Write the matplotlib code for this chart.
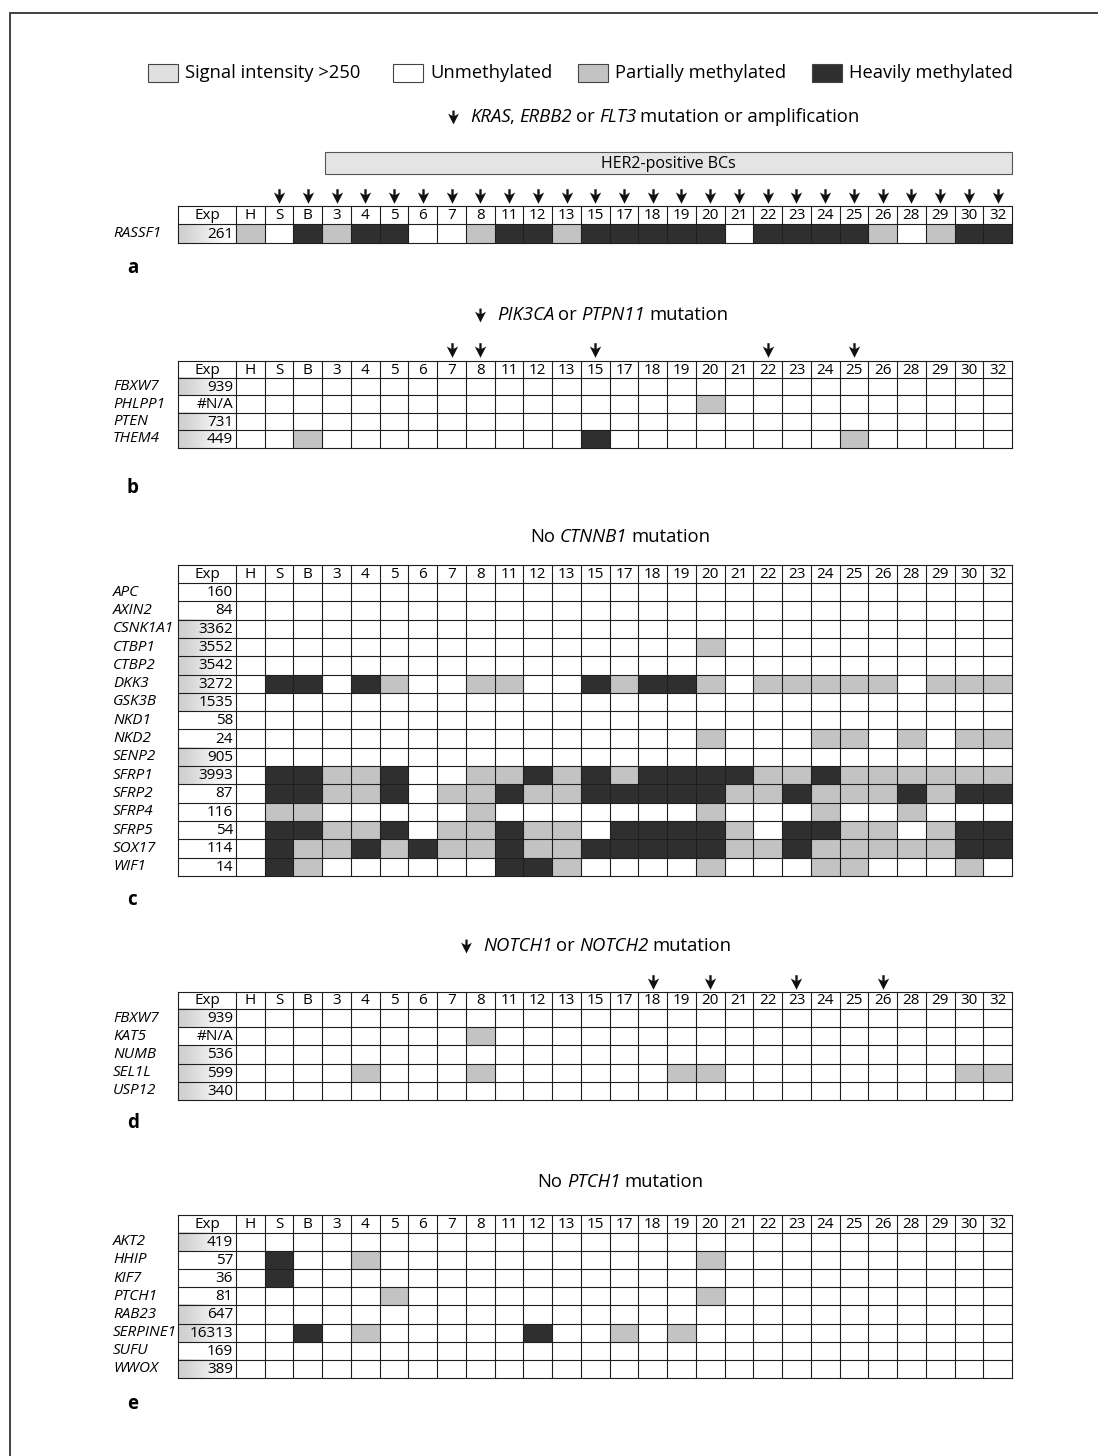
import numpy as np
import matplotlib
matplotlib.use("Agg")
import matplotlib.pyplot as plt
from matplotlib.patches import Rectangle
from matplotlib.path import Path

plt.rcParams['font.family'] = ['Open Sans', 'DejaVu Sans']

# ---------------- data ----------------
columns = ["H", "S", "B", "3", "4", "5", "6", "7", "8", "11", "12", "13", "15", "17",
           "18", "19", "20", "21", "22", "23", "24", "25", "26", "28", "29", "30", "32"]

legend_labels = ["Signal intensity >250", "Unmethylated", "Partially methylated", "Heavily methylated"]
exp_threshold = 250

# title segments: (text, italic)
a_title = [("KRAS", True), (", ", False), ("ERBB2", True), (" or ", False),
           ("FLT3", True), (" mutation or amplification", False)]
b_title = [("PIK3CA", True), (" or ", False), ("PTPN11", True), (" mutation", False)]
c_title = [("No ", False), ("CTNNB1", True), (" mutation", False)]
d_title = [("NOTCH1", True), (" or ", False), ("NOTCH2", True), (" mutation", False)]
e_title = [("No ", False), ("PTCH1", True), (" mutation", False)]

# status codes: 0 = unmethylated, 1 = partially methylated, 2 = heavily methylated
# (grouped in fives: H S B 3 4 | 5 6 7 8 11 | 12 13 15 17 18 | 19 20 21 22 23 | 24 25 26 28 29 | 30 32)
a_genes = ["RASSF1"]
a_exp = ["261"]
a_status = ["10212 20012 21222 22022 22101 22"]
a_arrows = columns[1:]
her2_label = "HER2-positive BCs"
her2_span = ["3", "32"]

b_genes = ["FBXW7", "PHLPP1", "PTEN", "THEM4"]
b_exp = ["939", "#N/A", "731", "449"]
b_status = ["00000 00000 00000 00000 00000 00",
            "00000 00000 00000 01000 00000 00",
            "00000 00000 00000 00000 00000 00",
            "00100 00000 00200 00000 01000 00"]
b_arrows = ["7", "8", "15", "22", "25"]

c_genes = ["APC", "AXIN2", "CSNK1A1", "CTBP1", "CTBP2", "DKK3", "GSK3B", "NKD1", "NKD2",
           "SENP2", "SFRP1", "SFRP2", "SFRP4", "SFRP5", "SOX17", "WIF1"]
c_exp = ["160", "84", "3362", "3552", "3542", "3272", "1535", "58", "24",
         "905", "3993", "87", "116", "54", "114", "14"]
c_status = ["00000 00000 00000 00000 00000 00",
            "00000 00000 00000 00000 00000 00",
            "00000 00000 00000 00000 00000 00",
            "00000 00000 00000 01000 00000 00",
            "00000 00000 00000 00000 00000 00",
            "02202 10011 00212 21011 11101 11",
            "00000 00000 00000 00000 00000 00",
            "00000 00000 00000 00000 00000 00",
            "00000 00000 00000 01000 11010 11",
            "00000 00000 00000 00000 00000 00",
            "02211 20011 21212 22211 21111 11",
            "02211 20112 11222 22112 11121 22",
            "01100 00010 00000 01000 10010 00",
            "02211 20112 11022 22102 21101 22",
            "02112 12112 11222 22112 11111 22",
            "02100 00002 21000 01000 11000 10"]
c_arrows = []

d_genes = ["FBXW7", "KAT5", "NUMB", "SEL1L", "USP12"]
d_exp = ["939", "#N/A", "536", "599", "340"]
d_status = ["00000 00000 00000 00000 00000 00",
            "00000 00010 00000 00000 00000 00",
            "00000 00000 00000 00000 00000 00",
            "00001 00010 00000 11000 00000 11",
            "00000 00000 00000 00000 00000 00"]
d_arrows = ["18", "20", "23", "26"]

e_genes = ["AKT2", "HHIP", "KIF7", "PTCH1", "RAB23", "SERPINE1", "SUFU", "WWOX"]
e_exp = ["419", "57", "36", "81", "647", "16313", "169", "389"]
e_status = ["00000 00000 00000 00000 00000 00",
            "02001 00000 00000 01000 00000 00",
            "02000 00000 00000 00000 00000 00",
            "00000 10000 00000 01000 00000 00",
            "00000 00000 00000 00000 00000 00",
            "00201 00000 20010 10000 00000 00",
            "00000 00000 00000 00000 00000 00",
            "00000 00000 00000 00000 00000 00"]
e_arrows = []

# ---------------- style ----------------
W, H = 1098, 1456
status_colors = {0: "white", 1: "#c3c3c3", 2: "#2f2f2f"}
signal_color = "#e0e0e0"
line_color = "#1e1e1e"
FS = 11
TITLE_FS = 13.3

fig = plt.figure(figsize=(W / 100, H / 100), dpi=100)
ax = fig.add_axes([0, 0, 1, 1])
ax.set_xlim(0, W)
ax.set_ylim(H, 0)
ax.axis("off")
renderer = fig.canvas.get_renderer()

# arrow marker (downward pointing, with a stem)
arrow_marker = Path([(-0.16, 1.0), (0.16, 1.0), (0.16, 0.22), (0.78, 0.55), (0.0, -1.0),
                     (-0.78, 0.55), (-0.16, 0.22), (-0.16, 1.0)],
                    [Path.MOVETO] + [Path.LINETO] * 6 + [Path.CLOSEPOLY])

# frame
ax.plot([10, 10, W], [H, 13, 13], color="#333333", lw=1.3, solid_joinstyle="miter")

# table geometry
X0 = 178
EXP_W = 58
X_END = 1012
CW = (X_END - X0 - EXP_W) / len(columns)


def col_x(label):
    return X0 + EXP_W + columns.index(label) * CW


def text_width(s, fs, italic=False):
    t = ax.text(0, 0, s, fontsize=fs, style="italic" if italic else "normal")
    w = t.get_window_extent(renderer).width
    t.remove()
    return w


def draw_rich(x, y, segments, fs):
    space_w = text_width("a a", fs) - text_width("aa", fs)
    for s, it in segments:
        core = s.strip(" ")
        lead = len(s) - len(s.lstrip(" "))
        trail = len(s) - len(s.rstrip(" ")) if core else 0
        x += lead * space_w
        if core:
            t = ax.text(x, y, core, ha="left", va="center", fontsize=fs,
                        style="italic" if it else "normal", zorder=4)
            x += t.get_window_extent(renderer).width - (1.0 if it else 0.0)
        x += trail * space_w


def gradient_cell(x, y, w, h):
    grad = np.array([[0.82, 0.88, 0.95, 0.99]])
    ax.imshow(grad, extent=(x, x + w, y + h, y), cmap="gray", vmin=0, vmax=1,
              interpolation="bilinear", aspect="auto", zorder=1)


def draw_table(top, header_h, row_h, genes, exps, statuses, arrows, arrow_y):
    n = len(genes)
    bottom = top + header_h + n * row_h
    ax.text(X0 + EXP_W / 2, top + header_h / 2 + 0.5, "Exp", ha="center", va="center", fontsize=FS, zorder=4)
    for c in columns:
        ax.text(col_x(c) + CW / 2, top + header_h / 2 + 0.5, c, ha="center", va="center", fontsize=FS, zorder=4)
    for i, (g, e, s) in enumerate(zip(genes, exps, statuses)):
        y = top + header_h + i * row_h
        ax.text(113, y + row_h / 2, g, ha="left", va="center", fontsize=FS, style="italic", zorder=4)
        if e.isdigit() and int(e) > exp_threshold:
            gradient_cell(X0, y, EXP_W, row_h)
        ax.text(X0 + EXP_W - 3, y + row_h / 2 + 0.5, e, ha="right", va="center", fontsize=FS, zorder=4)
        codes = [int(ch) for ch in s.replace(" ", "")]
        for j, code in enumerate(codes):
            if code:
                ax.add_patch(Rectangle((X0 + EXP_W + j * CW, y), CW, row_h,
                                       facecolor=status_colors[code], edgecolor="none", zorder=2))
    for k in range(n + 2):
        yy = top if k == 0 else top + header_h + (k - 1) * row_h
        ax.plot([X0, X_END], [yy, yy], color=line_color, lw=0.8, zorder=3)
    for xx in [X0, X0 + EXP_W] + [col_x(c) + CW for c in columns]:
        ax.plot([xx, xx], [top, bottom], color=line_color, lw=0.8, zorder=3)
    if arrows:
        ax.scatter([col_x(c) + CW / 2 for c in arrows], [arrow_y] * len(arrows),
                   marker=arrow_marker, s=110, color="#111111", zorder=4, linewidths=0)


def draw_title(x, y, segments, with_arrow):
    if with_arrow:
        ax.scatter([x], [y], marker=arrow_marker, s=100, color="#111111", zorder=4, linewidths=0)
        x += 17
    draw_rich(x, y, segments, TITLE_FS)


# legend
legend_x = [148, 393, 578, 812]
legend_fill = [signal_color, status_colors[0], status_colors[1], status_colors[2]]
for lx, lab, fc in zip(legend_x, legend_labels, legend_fill):
    ax.add_patch(Rectangle((lx, 64), 30, 18, facecolor=fc, edgecolor="#444444", lw=0.8, zorder=2))
    ax.text(lx + 37, 73, lab, ha="left", va="center", fontsize=13.2, zorder=4)

# panel a
draw_title(453, 117, a_title, True)
hx0 = col_x(her2_span[0]) + 3
hx1 = col_x(her2_span[1]) + CW
ax.add_patch(Rectangle((hx0, 152), hx1 - hx0, 22, facecolor="#e4e4e4", edgecolor="#555555", lw=0.8, zorder=2))
ax.text((hx0 + hx1) / 2, 163.5, her2_label, ha="center", va="center", fontsize=11.5, zorder=4)
draw_table(206, 18, 19, a_genes, a_exp, a_status, a_arrows, 196)
ax.text(127, 268, "a", ha="left", va="center", fontsize=13.5, fontweight="bold")

# panel b
draw_title(480, 315, b_title, True)
draw_table(361, 17, 17.4, b_genes, b_exp, b_status, b_arrows, 350)
ax.text(127, 488, "b", ha="left", va="center", fontsize=13.5, fontweight="bold")

# panel c
draw_title(530, 537, c_title, False)
draw_table(565, 18, 18.3, c_genes, c_exp, c_status, c_arrows, 555)
ax.text(127, 900, "c", ha="left", va="center", fontsize=13.5, fontweight="bold")

# panel d
draw_title(466, 946, d_title, True)
draw_table(992, 17, 18.2, d_genes, d_exp, d_status, d_arrows, 982)
ax.text(127, 1123, "d", ha="left", va="center", fontsize=13.5, fontweight="bold")

# panel e
draw_title(537, 1182, e_title, False)
draw_table(1215, 17.5, 18.2, e_genes, e_exp, e_status, e_arrows, 1205)
ax.text(127, 1404, "e", ha="left", va="center", fontsize=13.5, fontweight="bold")

ax.set_xlim(0, W)
ax.set_ylim(H, 0)
fig.savefig("out.png", dpi=100)
